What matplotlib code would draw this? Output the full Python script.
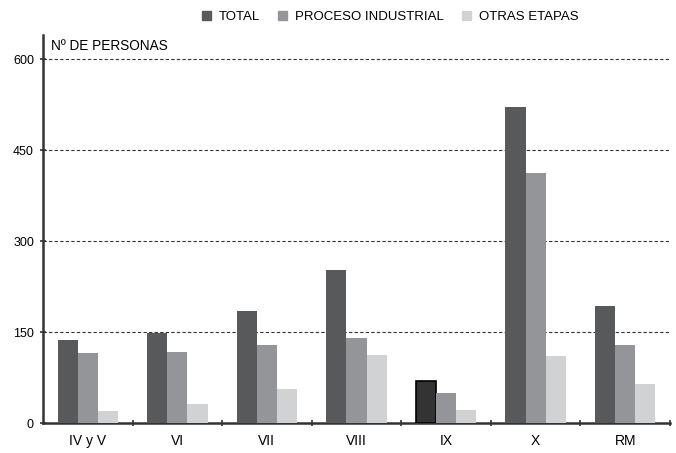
import matplotlib.pyplot as plt
import numpy as np
from matplotlib.patches import Patch

regiones = ['IV y V', 'VI', 'VII', 'VIII', 'IX', 'X', 'RM']
total = [137, 149, 185, 252, 70, 522, 193]
proceso = [116, 117, 129, 140, 49, 412, 129]
otras = [20, 31, 56, 112, 21, 110, 64]
y_ticks = [0, 150, 300, 450, 600]

plt.rcParams['font.family'] = ['Liberation Sans Narrow', 'Liberation Sans', 'DejaVu Sans']

c_total, c_proc, c_otras = '#58595b', '#939598', '#d1d2d4'

fig = plt.figure(figsize=(6.76, 4.53), dpi=100)
ax = fig.add_axes([0.0636, 0.0662, 0.9275, 0.8565])

x = np.arange(len(regiones))
w = 0.225
bars_t = ax.bar(x - w, total, w, color=c_total, zorder=3)
ax.bar(x, proceso, w, color=c_proc, zorder=3)
ax.bar(x + w, otras, w, color=c_otras, zorder=3)

# IX va resaltada
bars_t[4].set_facecolor('#333333')
bars_t[4].set_edgecolor('black')
bars_t[4].set_linewidth(1.2)

ax.set_xlim(-0.5, len(regiones) - 0.5)
ax.set_ylim(0, 640)

ax.set_yticks(y_ticks)
ax.set_yticklabels([str(v) for v in y_ticks], fontsize=9)
for v in y_ticks[1:]:
    ax.axhline(v, color='#333333', lw=0.8, ls=(0, (3, 2)), zorder=1)

ax.set_xticks(x)
ax.set_xticklabels(regiones, fontsize=10)
ax.tick_params(axis='x', which='major', length=0, pad=8)
ax.set_xticks(np.arange(0.5, len(regiones)), minor=True)
ax.tick_params(axis='x', which='minor', length=5, width=1.2, direction='inout', color='#333333')
ax.tick_params(axis='y', length=5, width=1.2, direction='inout', color='#333333', pad=4)

for s in ['top', 'right']:
    ax.spines[s].set_visible(False)
for s in ['left', 'bottom']:
    ax.spines[s].set_color('#333333')
    ax.spines[s].set_linewidth(1.8)

ax.text(0.012, 0.99, 'Nº DE PERSONAS', transform=ax.transAxes, fontsize=9.8,
        va='top', ha='left')

handles = [Patch(color=c_total, label='TOTAL'),
           Patch(color=c_proc, label='PROCESO INDUSTRIAL'),
           Patch(color=c_otras, label='OTRAS ETAPAS')]
fig.legend(handles=handles, ncol=3, loc='center', bbox_to_anchor=(0.577, 0.962),
           frameon=False, fontsize=9.5, handlelength=0.65, handleheight=0.65,
           handletextpad=0.6, columnspacing=1.4)

plt.savefig('out.png', dpi=100)
